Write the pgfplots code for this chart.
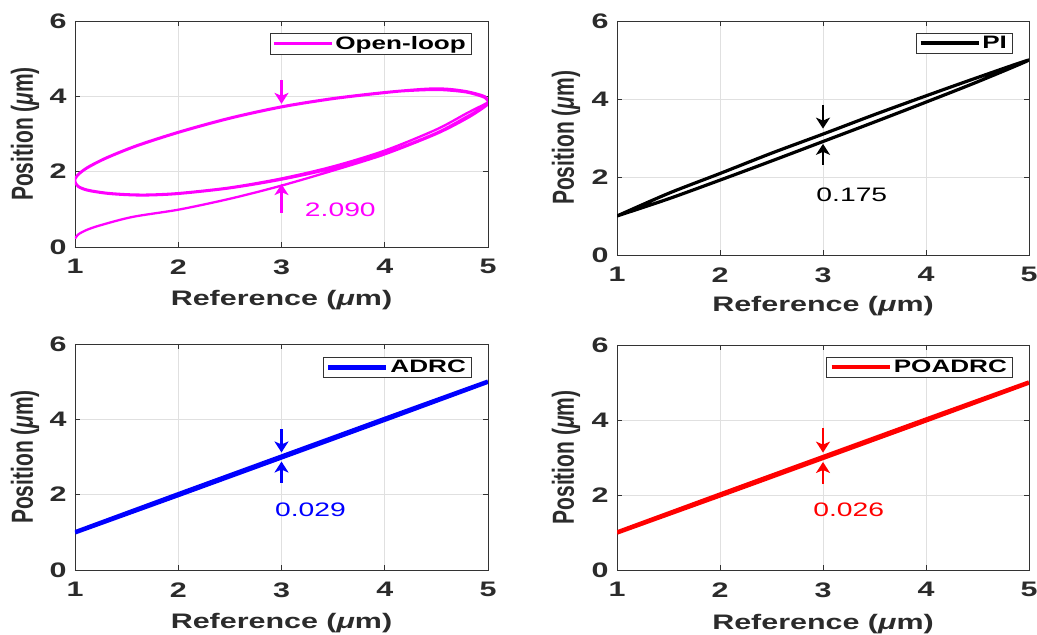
\documentclass[border=0pt]{standalone}
\usepackage{fontspec}
\setmainfont{Liberation Sans}
\usepackage{graphicx}
\usepackage{pgfplots}
\pgfplotsset{compat=1.18}
\usetikzlibrary{arrows.meta}

\definecolor{axgray}{gray}{0.2}
\definecolor{txtgray}{gray}{0.17}
\definecolor{gridgray}{gray}{0.88}
\definecolor{mymag}{rgb}{1,0,1}

\newcommand{\sx}[1]{\scalebox{1.45}[1]{#1}}
\newcommand{\sy}[1]{\scalebox{1}[1.45]{#1}}

\tikzset{
  annot/.style={font=\fontsize{19.5}{20}\selectfont},
  arr/.style={line width=2.8pt, -{Stealth[length=11pt, width=14pt, inset=3pt]}},
}

\pgfplotsset{
  myaxis/.style={
    scale only axis, anchor=south west,
    xmin=1, xmax=5, ymin=0, ymax=6,
    xtick={1,2,3,4,5}, ytick={0,2,4,6},
    grid=major, major grid style={gridgray, line width=0.7pt},
    axis line style={axgray, line width=0.8pt},
    tick style={axgray, line width=0.8pt}, major tick length=5pt,
    tick align=inside, xtick pos=both, ytick pos=both,
    /pgf/number format/assume math mode=true,
    xticklabel={\sx{\pgfmathprintnumber{\tick}}},
    yticklabel={\sx{\pgfmathprintnumber{\tick}}},
    ticklabel style={font=\bfseries\fontsize{21}{21}\selectfont, text=txtgray},
    xticklabel style={yshift=-9pt},
    yticklabel style={xshift=-5pt},
    xlabel={\sx{Reference (\textit{μ}m)}},
    ylabel={\sy{Position (\textit{μ}m)}},
    label style={font=\bfseries\fontsize{21}{21}\selectfont, text=txtgray},
    legend cell align=left,
    legend image code/.code={\draw[##1] (0pt,0pt) -- (58pt,0pt);},
    legend style={draw=axgray, fill=white, inner xsep=3pt, inner ysep=1pt,
      font=\bfseries\fontsize{18}{20}\selectfont, text=black, anchor=north east},
  },
}

\begin{document}
\begin{tikzpicture}
\path[use as bounding box] (0,0) rectangle (1037pt,635pt);

% ---------------- Open-loop ----------------
\begin{axis}[myaxis, at={(75pt,388pt)}, width=413pt, height=226pt,
  xlabel style={at={(axis description cs:0.5,-0.2345)}, anchor=center},
  ylabel style={at={(axis description cs:-0.121,0.5)}, anchor=center},
  legend style={at={(axis description cs:0.959,0.947)}}]
\addplot[mymag, line width=2.3pt, smooth, tension=0.5] coordinates {
(1.00,0.22) (1.03,0.33) (1.11,0.45) (1.25,0.58) (1.56,0.80) (2.02,1.00) (2.53,1.30)
(3.00,1.63) (3.50,2.03) (4.00,2.46) (4.50,3.00) (4.80,3.42) (4.97,3.72) (5.00,3.82)
(4.97,3.96) (4.80,4.10) (4.60,4.16) (4.45,4.17) (4.20,4.14) (4.00,4.09) (3.50,3.93)
(3.00,3.71) (2.50,3.41) (2.02,3.05) (1.60,2.68) (1.30,2.35) (1.11,2.08) (1.02,1.88)
(1.00,1.74) (1.03,1.60) (1.12,1.50) (1.30,1.42) (1.50,1.38) (1.70,1.37) (2.00,1.41)
(2.50,1.56) (3.00,1.79) (3.50,2.09) (4.00,2.49) (4.50,3.03) (4.80,3.47) (4.96,3.72)
(5.00,3.86) (4.97,4.00) (4.80,4.13) (4.60,4.20) (4.40,4.20) (4.00,4.11) (3.50,3.95)
(3.00,3.73) (2.50,3.43) (2.02,3.07) (1.60,2.70) (1.30,2.37) (1.11,2.10) (1.02,1.90)
(1.00,1.76) (1.03,1.62) (1.12,1.52) (1.30,1.44) (1.50,1.40) (1.70,1.39) (2.00,1.43)
(2.50,1.58) (3.00,1.82) (3.50,2.14) (4.00,2.56) (4.50,3.12) (4.80,3.56) (4.96,3.78)
(5.00,3.84)
};
\addlegendentry{\sx{Open-loop}}
\draw[mymag, arr] (axis cs:3,4.43) -- (axis cs:3,3.80);
\draw[mymag, arr] (axis cs:3,0.90) -- (axis cs:3,1.67);
\node[mymag, annot] at (axis cs:3.57,0.98) {\sx{2.090}};
\end{axis}

% ---------------- PI ----------------
\begin{axis}[myaxis, at={(617pt,380pt)}, width=412pt, height=234pt,
  xlabel style={at={(axis description cs:0.5,-0.218)}, anchor=center},
  ylabel style={at={(axis description cs:-0.124,0.5)}, anchor=center},
  legend style={at={(axis description cs:0.959,0.949)}}]
\addplot[black, line width=3.2pt, smooth] coordinates {
(1.00,1.00) (1.50,1.58) (2.00,2.09) (2.50,2.61) (3.00,3.10) (3.50,3.60) (4.00,4.08)
(4.50,4.55) (5.00,5.00) (4.50,4.44) (4.00,3.92) (3.50,3.41) (3.00,2.91) (2.50,2.41)
(2.00,1.92) (1.50,1.44) (1.00,1.00)
};
\addlegendentry{\sx{PI}}
\draw[black, arr] (axis cs:3,3.85) -- (axis cs:3,3.24);
\draw[black, arr] (axis cs:3,2.31) -- (axis cs:3,2.85);
\node[black, annot] at (axis cs:3.28,1.54) {\sx{0.175}};
\end{axis}

% ---------------- ADRC ----------------
\begin{axis}[myaxis, at={(75pt,65pt)}, width=413pt, height=226pt,
  xlabel style={at={(axis description cs:0.5,-0.2345)}, anchor=center},
  ylabel style={at={(axis description cs:-0.121,0.5)}, anchor=center},
  legend style={at={(axis description cs:0.959,0.942)}}]
\addplot[blue, line width=4.5pt] coordinates {
(1.00,1.00) (2.00,2.01) (3.00,3.01) (4.00,4.01) (5.00,5.00)
(4.00,3.99) (3.00,2.99) (2.00,1.99) (1.00,1.00)
};
\addlegendentry{\sx{ADRC}}
\draw[blue, arr] (axis cs:3,3.74) -- (axis cs:3,3.12);
\draw[blue, arr] (axis cs:3,2.31) -- (axis cs:3,2.88);
\node[blue, annot] at (axis cs:3.28,1.60) {\sx{0.029}};
\end{axis}

% ---------------- POADRC ----------------
\begin{axis}[myaxis, at={(617pt,65pt)}, width=412pt, height=225pt,
  xlabel style={at={(axis description cs:0.5,-0.24)}, anchor=center},
  ylabel style={at={(axis description cs:-0.124,0.5)}, anchor=center},
  legend style={at={(axis description cs:0.959,0.947)}}]
\addplot[red, line width=4.5pt] coordinates {
(1.00,1.00) (2.00,2.01) (3.00,3.01) (4.00,4.01) (5.00,5.00)
(4.00,3.99) (3.00,2.99) (2.00,1.99) (1.00,1.00)
};
\addlegendentry{\sx{POADRC}}
\draw[red, arr] (axis cs:3,3.79) -- (axis cs:3,3.13);
\draw[red, arr] (axis cs:3,2.29) -- (axis cs:3,2.88);
\node[red, annot] at (axis cs:3.25,1.60) {\sx{0.026}};
\end{axis}
\end{tikzpicture}
\end{document}
